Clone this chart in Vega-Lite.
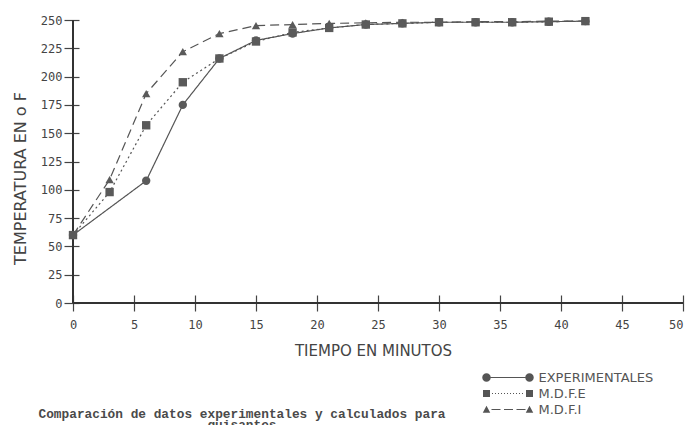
{
  "$schema": "https://vega.github.io/schema/vega-lite/v6.json",
  "autosize": "none",
  "width": 610,
  "height": 283,
  "padding": {"left": 73, "top": 20, "right": 4, "bottom": 122},
  "background": "white",
  "title": {
    "text": ["Comparación de datos experimentales y calculados para", "guisantes"],
    "orient": "bottom",
    "anchor": "middle",
    "dx": -136,
    "offset": 0,
    "dy": -9,
    "baseline": "top",
    "font": "Liberation Mono",
    "fontSize": 12.8,
    "fontWeight": "bold",
    "color": "#4a4a4a",
    "lineHeight": 11
  },
  "data": {
    "values": [
      {"serie": "EXPERIMENTALES", "t": 0, "temp": 60},
      {"serie": "EXPERIMENTALES", "t": 6, "temp": 108},
      {"serie": "EXPERIMENTALES", "t": 9, "temp": 175},
      {"serie": "EXPERIMENTALES", "t": 12, "temp": 216},
      {"serie": "EXPERIMENTALES", "t": 15, "temp": 232},
      {"serie": "EXPERIMENTALES", "t": 18, "temp": 238},
      {"serie": "EXPERIMENTALES", "t": 21, "temp": 243},
      {"serie": "EXPERIMENTALES", "t": 24, "temp": 246},
      {"serie": "EXPERIMENTALES", "t": 27, "temp": 247},
      {"serie": "EXPERIMENTALES", "t": 30, "temp": 248},
      {"serie": "EXPERIMENTALES", "t": 33, "temp": 248},
      {"serie": "EXPERIMENTALES", "t": 36, "temp": 248},
      {"serie": "EXPERIMENTALES", "t": 39, "temp": 248.5},
      {"serie": "EXPERIMENTALES", "t": 42, "temp": 249},
      {"serie": "M.D.F.E", "t": 0, "temp": 60},
      {"serie": "M.D.F.E", "t": 3, "temp": 98},
      {"serie": "M.D.F.E", "t": 6, "temp": 157},
      {"serie": "M.D.F.E", "t": 9, "temp": 195},
      {"serie": "M.D.F.E", "t": 12, "temp": 216},
      {"serie": "M.D.F.E", "t": 15, "temp": 231},
      {"serie": "M.D.F.E", "t": 18, "temp": 239},
      {"serie": "M.D.F.E", "t": 21, "temp": 243},
      {"serie": "M.D.F.E", "t": 24, "temp": 246},
      {"serie": "M.D.F.E", "t": 27, "temp": 247},
      {"serie": "M.D.F.E", "t": 30, "temp": 248},
      {"serie": "M.D.F.E", "t": 33, "temp": 248},
      {"serie": "M.D.F.E", "t": 36, "temp": 248},
      {"serie": "M.D.F.E", "t": 39, "temp": 248.5},
      {"serie": "M.D.F.E", "t": 42, "temp": 249},
      {"serie": "M.D.F.I", "t": 0, "temp": 60},
      {"serie": "M.D.F.I", "t": 3, "temp": 109},
      {"serie": "M.D.F.I", "t": 6, "temp": 185},
      {"serie": "M.D.F.I", "t": 9, "temp": 222},
      {"serie": "M.D.F.I", "t": 12, "temp": 238},
      {"serie": "M.D.F.I", "t": 15, "temp": 245},
      {"serie": "M.D.F.I", "t": 18, "temp": 246},
      {"serie": "M.D.F.I", "t": 21, "temp": 247},
      {"serie": "M.D.F.I", "t": 24, "temp": 247.5},
      {"serie": "M.D.F.I", "t": 27, "temp": 248},
      {"serie": "M.D.F.I", "t": 30, "temp": 248},
      {"serie": "M.D.F.I", "t": 33, "temp": 248.5},
      {"serie": "M.D.F.I", "t": 36, "temp": 248.5},
      {"serie": "M.D.F.I", "t": 39, "temp": 249},
      {"serie": "M.D.F.I", "t": 42, "temp": 249}
    ]
  },
  "encoding": {
    "x": {
      "field": "t", "type": "quantitative",
      "scale": {"domain": [0, 50], "nice": false, "zero": false},
      "axis": {
        "title": "TIEMPO EN MINUTOS",
        "values": [0, 5, 10, 15, 20, 25, 30, 35, 40, 45, 50],
        "grid": false, "domain": false,
        "offset": -8, "tickSize": 16, "tickColor": "#444", "tickWidth": 1.2,
        "labelPadding": 8, "labelFont": "DejaVu Sans Mono", "labelFontSize": 12, "labelColor": "#444",
        "labelFlush": false,
        "labelAlign": {"expr": "datum.value == 50 ? 'right' : 'center'"},
        "labelDx": {"expr": "datum.value == 50 ? 3 : 0"},
        "titleFont": "DejaVu Sans", "titleFontSize": 15, "titleFontWeight": "normal", "titleColor": "#444",
        "titleX": 300, "titleY": 55, "titleBaseline": "middle", "titleAlign": "center"
      }
    },
    "y": {
      "field": "temp", "type": "quantitative",
      "scale": {"domain": [0, 250], "nice": false},
      "axis": {
        "title": "TEMPERATURA EN  o F",
        "values": [0, 25, 50, 75, 100, 125, 150, 175, 200, 225, 250],
        "grid": false, "domain": false,
        "offset": -6, "tickSize": 15, "tickColor": "#444", "tickWidth": 1.2,
        "labelPadding": 2, "labelFont": "DejaVu Sans Mono", "labelFontSize": 12, "labelColor": "#444",
        "labelFlush": false,
        "titleFont": "DejaVu Sans", "titleFontSize": 16, "titleFontWeight": "normal", "titleColor": "#444",
        "titleX": -59, "titleY": 158, "titleAngle": -90, "titleBaseline": "middle", "titleAlign": "center"
      }
    }
  },
  "layer": [
    {
      "mark": {"type": "rule", "color": "#333", "strokeWidth": 1.2},
      "encoding": {"x": {"datum": 0}, "y": null}
    },
    {
      "mark": {"type": "rule", "color": "#333", "strokeWidth": 1.2},
      "encoding": {"y": {"datum": 0}, "x": null}
    },
    {
      "mark": {"type": "line", "color": "#555", "strokeWidth": 1.2},
      "encoding": {
        "detail": {"field": "serie"},
        "strokeDash": {
          "field": "serie", "type": "nominal",
          "scale": {"domain": ["EXPERIMENTALES", "M.D.F.E", "M.D.F.I"], "range": [[1, 0], [2, 3], [9, 5]]},
          "legend": null
        }
      }
    },
    {
      "mark": {"type": "point", "filled": true, "color": "#5a5a5a", "opacity": 1, "size": 70},
      "encoding": {
        "shape": {
          "field": "serie", "type": "nominal",
          "scale": {"domain": ["EXPERIMENTALES", "M.D.F.E", "M.D.F.I"], "range": ["circle", "square", "triangle-up"]},
          "legend": null
        }
      }
    },
    {
      "transform": [{"filter": "false"}],
      "mark": {"type": "point", "filled": true, "color": "#555", "opacity": 1},
      "encoding": {
        "shape": {
          "field": "serie", "type": "nominal",
          "scale": {
            "domain": ["EXPERIMENTALES", "M.D.F.E", "M.D.F.I"],
            "range": [
              "M -5.15,0 A 0.85,0.85 0 1,0 -3.45,0 A 0.85,0.85 0 1,0 -5.15,0 Z M -3.45,-0.12 H 3.45 V 0.12 H -3.45 Z M 3.45,0 A 0.85,0.85 0 1,0 5.15,0 A 0.85,0.85 0 1,0 3.45,0 Z",
              "M -5,-0.7 H -3.6 V 0.7 H -5 Z M 3.6,-0.7 H 5 V 0.7 H 3.6 Z M -3.2,-0.1 h 0.2 v 0.2 h -0.2 Z M -2.6,-0.1 h 0.2 v 0.2 h -0.2 Z M -2.0,-0.1 h 0.2 v 0.2 h -0.2 Z M -1.4,-0.1 h 0.2 v 0.2 h -0.2 Z M -0.8,-0.1 h 0.2 v 0.2 h -0.2 Z M -0.2,-0.1 h 0.2 v 0.2 h -0.2 Z M 0.4,-0.1 h 0.2 v 0.2 h -0.2 Z M 1.0,-0.1 h 0.2 v 0.2 h -0.2 Z M 1.6,-0.1 h 0.2 v 0.2 h -0.2 Z M 2.2,-0.1 h 0.2 v 0.2 h -0.2 Z M 2.8,-0.1 h 0.2 v 0.2 h -0.2 Z",
              "M -4.3,-0.75 L -3.55,0.65 L -5.05,0.65 Z M 4.3,-0.75 L 5.05,0.65 L 3.55,0.65 Z M -3.3,-0.12 H -1.5 V 0.12 H -3.3 Z M -0.8,-0.12 H 1.0 V 0.12 H -0.8 Z M 1.7,-0.12 H 3.5 V 0.12 H 1.7 Z"
            ]
          },
          "legend": {
            "title": null,
            "orient": "none",
            "legendX": 428.5,
            "legendY": 351,
            "padding": 0,
            "symbolSize": 100,
            "symbolStrokeWidth": 0,
            "symbolFillColor": "#555",
            "symbolOpacity": 1,
            "labelOffset": 24,
            "labelFont": "DejaVu Sans",
            "labelFontSize": 13,
            "labelColor": "#555",
            "rowPadding": 2
          }
        }
      }
    }
  ],
  "resolve": {"scale": {"shape": "independent"}},
  "config": {"view": {"stroke": null}}
}
